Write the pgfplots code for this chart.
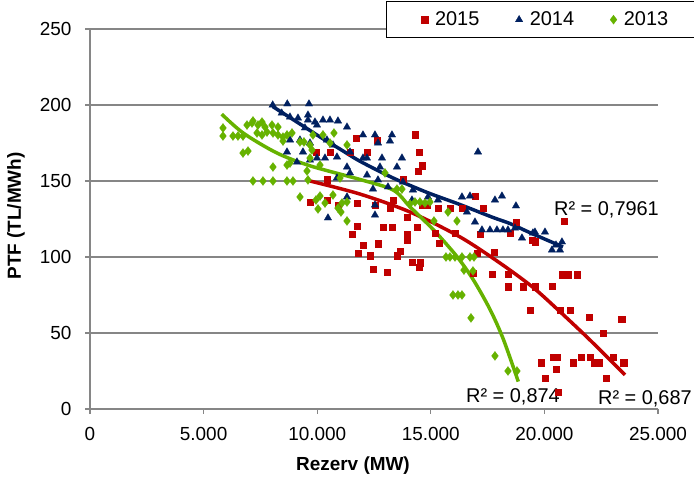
\documentclass[border=0pt]{standalone}
\usepackage{pgfplots}
\usepackage{pgfplotstable}
\pgfplotsset{compat=1.18}
\usepackage{fontspec}
\setmainfont{Liberation Sans}

\definecolor{c15}{RGB}{192,0,0}
\definecolor{c14}{RGB}{0,32,96}
\definecolor{c13}{RGB}{102,178,0}
\definecolor{axgray}{RGB}{134,134,134}

% 2015 points
\pgfplotstableread{
x y
9946 169.1
10562 169.1
11443 169.1
11707 178.3
12191 169.1
12631 177.0
14303 180.3
14479 169.1
14611 159.9
14435 156.6
10430 150.7
13775 150.7
9682 136.2
10430 137.5
10914 134.2
11751 135.5
12543 134.2
13203 132.2
13335 137.5
13951 126.3
14611 134.2
14831 134.2
15315 132.2
15844 132.2
16372 132.2
16944 140.1
17296 132.2
11751 120.4
11531 115.1
12895 119.7
13291 119.7
14391 119.7
13951 115.1
13951 111.2
12015 107.9
12675 108.6
11795 102.6
12323 100.7
13643 103.9
13511 100.7
12455 92.1
13071 90.1
14171 96.7
14523 96.1
14479 93.4
15359 109.2
15183 115.8
16063 115.8
17164 115.1
17032 102.6
17780 103.3
17692 88.8
18396 88.8
18396 80.3
16856 89.5
18748 123.0
19584 109.9
18484 115.8
19452 111.2
20861 123.7
20773 88.2
21037 88.2
21433 88.2
19056 80.3
19584 80.3
20333 80.9
19364 65.1
20685 65.1
21125 65.1
21961 60.5
23413 59.2
22577 50.0
19849 30.3
20377 34.2
20553 34.2
20509 26.3
20025 20.4
21257 30.3
21609 34.2
22005 34.2
22181 30.3
22401 30.3
23017 34.2
23501 30.3
22709 20.4
20597 11.2
}\redpts

% 2014 points
\pgfplotstableread{
x y
8041 200.0
8683 200.7
9638 200.7
8437 194.7
8802 192.1
9154 191.4
9594 193.4
9594 190.1
9902 188.8
10254 190.1
10562 190.1
10914 189.5
9990 186.8
11311 185.5
9462 184.9
8802 177.0
9242 177.0
9682 175.0
10430 177.0
10694 173.7
11443 169.1
8670 169.1
9374 169.1
9682 163.8
9990 165.1
10342 165.1
9110 162.5
10870 165.8
10870 152.0
11311 159.2
11443 155.3
11311 139.5
10474 125.7
12015 180.3
12543 180.3
12675 175.0
13291 180.3
13203 176.3
17076 169.1
12015 165.1
12191 165.1
12851 165.1
13731 165.1
13511 159.2
12763 159.2
12191 153.9
12675 150.7
12455 144.7
13115 146.1
13775 149.3
14215 144.1
12543 134.2
12543 127.6
14171 137.5
14875 139.5
15315 137.5
16372 139.5
16724 140.1
17824 137.5
18132 140.1
16592 129.6
16944 123.0
17252 117.8
17604 117.8
17912 117.8
18176 117.8
18396 117.8
18704 119.1
18748 133.6
19012 112.5
19584 116.4
20025 116.4
20333 104.6
20773 109.9
20685 104.6
19496 115.8
20509 107.9
}\navypts

% 2013 points
\pgfplotstableread{
x y
5853 184.9
5853 179.6
6293 179.6
6513 179.6
6734 179.6
6910 186.8
7130 188.2
7174 189.5
7394 186.8
7570 188.8
7702 185.5
8010 186.8
8274 185.5
7350 181.6
7570 180.3
7790 182.2
8054 181.6
8274 180.3
8494 178.9
8670 180.3
8890 181.6
8494 176.3
9242 175.7
6734 168.4
6954 169.7
8054 159.2
8670 160.5
8802 161.8
9418 175.7
9682 173.7
9814 180.3
10254 180.3
10738 181.6
10562 175.0
11311 173.7
9770 170.4
9682 165.1
10122 160.5
9550 156.6
7174 150.0
7614 150.0
8054 150.0
8670 150.0
8934 150.0
9594 150.7
11003 152.0
9242 139.5
9946 137.5
10122 140.1
10694 140.8
11091 135.5
10034 131.6
10342 135.5
10914 132.2
11047 129.6
11311 136.2
11311 123.7
12983 155.3
13511 144.7
13731 144.7
14303 136.2
14523 136.2
14743 135.5
14963 136.2
14083 134.9
15756 129.6
16152 123.7
15139 123.7
15668 100.0
15844 100.0
16063 100.0
16372 100.0
16724 100.0
16900 100.0
16460 91.4
16856 90.8
15975 75.0
16196 75.0
16372 75.0
16768 59.9
17824 34.9
18396 25.0
18792 25.0
}\greenpts

% trend lines
\pgfplotstableread{
x y
9683 150
11884 141.4
14085 129.6
16285 113.2
18046 96
19498 80
20687 64
21998 45.5
23548 22.4
}\redtrend

\pgfplotstableread{
x y
8041 199
9243 187.5
10123 179
11004 171
11884 163
13336 152
14833 142.5
16285 134.5
17738 126
18486 122
19366 116
20819 106.6
}\navytrend

\pgfplotstableread{
x y
5796 194
6749 181.5
8216 168.5
9683 160
11884 151
13350 144
14085 133
15110 118
16139 100.5
16871 85
17606 65.5
18190 46
18851 18
}\greentrend

\begin{document}
\begin{tikzpicture}
\useasboundingbox (0,0) rectangle (694bp,484bp);
\begin{axis}[
  at={(90bp,75bp)}, anchor=south west,
  width=568bp, height=380bp, scale only axis,
  xmin=0, xmax=25000, ymin=0, ymax=250,
  xtick distance=5000, ytick distance=50,
  scaled x ticks=false, scaled y ticks=false,
  axis x line*=bottom, axis y line*=left,
  axis line style={-, draw=axgray, line width=1.2bp},
  xtick pos=bottom, ytick pos=left,
  tick align=outside, major tick length=5bp,
  tick style={draw=axgray, line width=1.2bp},
  ymajorgrids, grid style={draw=axgray, line width=1.2bp},
  tick label style={font=\fontsize{19}{22}\selectfont},
  xticklabel style={yshift=-10bp},
  yticklabel style={xshift=-10bp},
  /pgf/number format/1000 sep={.},
  /pgf/number format/assume math mode=true,
  xlabel={Rezerv (MW)},
  ylabel={PTF (TL/MWh)},
  every axis x label/.style={at={(axis cs:11575,-37.5)}, anchor=center,
    font=\bfseries\fontsize{19}{22}\selectfont},
  every axis y label/.style={at={(axis cs:-3257,127)}, rotate=90, anchor=center,
    font=\bfseries\fontsize{19}{22}\selectfont},
  clip=false,
  legend columns=3,
  legend cell align=left,
  legend image code/.code={\draw[#1] plot coordinates {(0bp,0bp)};},
  legend style={at={(0.5211,1.0737)}, anchor=north west,
    draw=black, line width=1bp, inner xsep=35bp, inner ysep=8.5bp,
    font=\fontsize{20}{24}\selectfont,
    /tikz/every even column/.append style={column sep=34bp}},
]
\addplot[only marks, mark=square*, mark size=3.3bp, color=c15, line width=0.3bp] table {\redpts};
\addlegendentry{\hspace*{5bp}2015}
\addplot[only marks, mark=triangle*, mark size=4.3bp, color=c14, line width=0.3bp] table {\navypts};
\addlegendentry{\hspace*{5bp}2014}
\addplot[only marks, mark=diamond*, mark size=4.5bp, color=c13, line width=0.3bp] table {\greenpts};
\addlegendentry{\hspace*{5bp}2013\hspace*{40bp}}

\addplot[forget plot, c15, line width=3.5bp, smooth] table {\redtrend};
\addplot[forget plot, c14, line width=3.5bp, smooth] table {\navytrend};
\addplot[forget plot, c13, line width=3.5bp, smooth] table {\greentrend};

\node[anchor=west, inner sep=0pt, font=\fontsize{20}{24}\selectfont] at (axis cs:20421,130.9) {R² = 0,7961};
\node[anchor=west, inner sep=0pt, font=\fontsize{20}{24}\selectfont] at (axis cs:16548,7.9) {R² = 0,874};
\node[anchor=west, inner sep=0pt, font=\fontsize{20}{24}\selectfont] at (axis cs:22357,6.6) {R² = 0,687};
\end{axis}
\end{tikzpicture}
\end{document}
